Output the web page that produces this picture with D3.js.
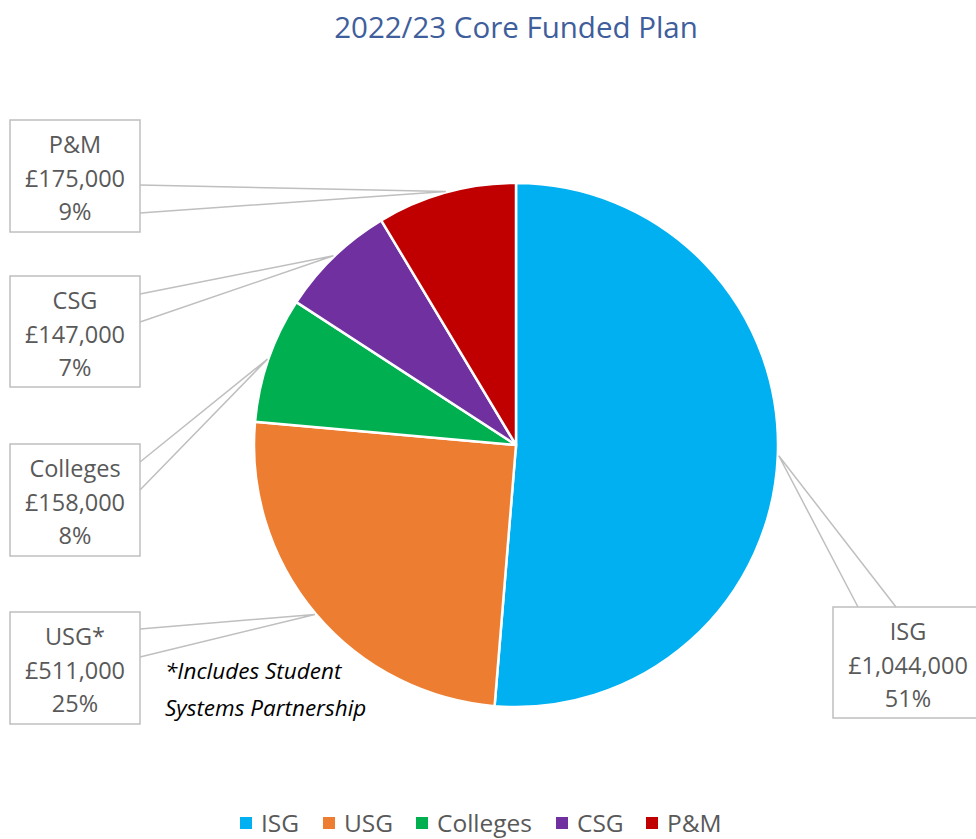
<!DOCTYPE html>
<html><head><meta charset="utf-8">
<script src="https://cdn.jsdelivr.net/npm/d3@7"></script>
<style>body{margin:0;background:#fff}svg{display:block}</style>
</head><body>
<script>
const categories = ["ISG", "USG", "Colleges", "CSG", "P&M"];
const labelNames = ["ISG", "USG*", "Colleges", "CSG", "P&M"];
const values = [1044000, 511000, 158000, 147000, 175000];
const percents = ["51%", "25%", "8%", "7%", "9%"];
const colors = ["#00B0F0", "#ED7D31", "#00B050", "#7030A0", "#C00000"];
const title = "2022/23 Core Funded Plan";
const footnote = ["*Includes Student", "Systems Partnership"];

const W = 976, H = 839, cx = 516, cy = 445, R = 262;
const font = "'Open Sans', sans-serif";
const svg = d3.select("body").append("svg").attr("width", W).attr("height", H);

svg.append("text").attr("x", 516).attr("y", 38).attr("text-anchor", "middle")
  .attr("font-family", font).attr("font-size", 29.5).attr("fill", "#3F5E9C").text(title);

const pie = d3.pie().sort(null).value(d => d)(values);
const arc = d3.arc().innerRadius(0).outerRadius(R);
const g = svg.append("g").attr("transform", `translate(${cx},${cy})`);
g.selectAll("path").data(pie).join("path").attr("d", arc)
  .attr("fill", (d, i) => colors[i]).attr("stroke", "#fff").attr("stroke-width", 2.5);

const boxes = [
  {x: 833, y: 607, w: 150, h: 111, p: [[858, 607], [896, 607]]},
  {x: 10, y: 612, w: 130, h: 112, p: [[140, 629], [140, 657]]},
  {x: 10, y: 444, w: 130, h: 112, p: [[140, 462], [140, 490]]},
  {x: 10, y: 276, w: 130, h: 111, p: [[140, 294], [140, 322]]},
  {x: 10, y: 120, w: 130, h: 112, p: [[140, 185], [140, 213]]}
];
const fmt = d3.format(",");
boxes.forEach((b, i) => {
  const d = pie[i];
  const a = (d.startAngle + d.endAngle) / 2;
  const ax = cx + (R + 1) * Math.sin(a), ay = cy - (R + 1) * Math.cos(a);
  svg.append("rect").attr("x", b.x).attr("y", b.y).attr("width", b.w).attr("height", b.h)
    .attr("fill", "#fff").attr("stroke", "#BFBFBF").attr("stroke-width", 1.5);
  svg.append("path").attr("d", `M${b.p[0][0]},${b.p[0][1]}L${ax},${ay}L${b.p[1][0]},${b.p[1][1]}`)
    .attr("fill", "none").attr("stroke", "#BFBFBF").attr("stroke-width", 1.5);
  const lines = [labelNames[i], "£" + fmt(values[i]), percents[i]];
  const tx = b.x + (i === 0 ? 75 : b.w / 2);
  lines.forEach((t, k) => {
    svg.append("text").attr("x", tx).attr("y", b.y + 33 + k * 33.5).attr("text-anchor", "middle")
      .attr("font-family", font).attr("font-size", 23.5).attr("fill", "#595959").text(t);
  });
});

footnote.forEach((t, k) => {
  svg.append("text").attr("x", 165).attr("y", 679 + k * 37).attr("font-family", font)
    .attr("font-style", "italic").attr("font-size", 22.5).attr("fill", "#000").text(t);
});

const legendX = [240, 323, 416, 556, 646];
const lg = svg.append("g");
categories.forEach((c, i) => {
  lg.append("rect").attr("x", legendX[i]).attr("y", 817).attr("width", 12).attr("height", 12).attr("fill", colors[i]);
  lg.append("text").attr("x", legendX[i] + 21).attr("y", 832).attr("font-family", font)
    .attr("font-size", 24.5).attr("fill", "#595959").text(c);
});
</script>
</body></html>
